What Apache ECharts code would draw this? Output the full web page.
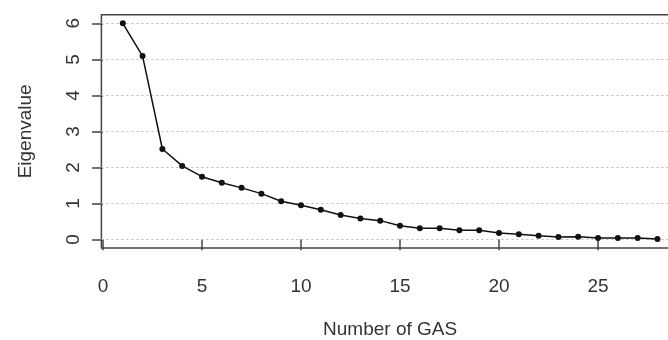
<!DOCTYPE html>
<html>
<head>
<meta charset="utf-8">
<script src="https://cdn.jsdelivr.net/npm/echarts@6/dist/echarts.min.js"></script>
<style>html,body{margin:0;padding:0;background:#fff;}#c{width:668px;height:340px;}</style>
</head>
<body>
<div id="c"></div>
<script>
var components = [1,2,3,4,5,6,7,8,9,10,11,12,13,14,15,16,17,18,19,20,21,22,23,24,25,26,27,28];
var eigenvalues = [6.0,5.09,2.51,2.04,1.74,1.57,1.43,1.27,1.06,0.95,0.82,0.675,0.58,0.52,0.38,0.31,0.31,0.25,0.25,0.175,0.14,0.10,0.064,0.072,0.036,0.036,0.036,0.008];
var xTicks = [0,5,10,15,20,25];
var yTicks = [0,1,2,3,4,5,6];
var xTitle = 'Number of GAS';
var yTitle = 'Eigenvalue';

var font = 'Liberation Sans, Arial, sans-serif';
var chart = echarts.init(document.getElementById('c'), null, {renderer:'canvas'});
chart.setOption({
  animation:false,
  backgroundColor:'#fff',
  grid:{left:101.4, top:14.7, width:577.4, height:233.3, show:true, borderColor:'#444', borderWidth:1.5, backgroundColor:'transparent', containLabel:false, outerBoundsMode:'none'},
  xAxis:{
    type:'value', min:-0.08, max:29.08,
    name:xTitle, nameLocation:'middle', nameGap:72,
    nameTextStyle:{fontFamily:font, fontSize:19, color:'#333'},
    axisLine:{show:false},
    axisTick:{show:true, inside:false, length:11, customValues:xTicks, lineStyle:{color:'#444', width:1.5}},
    axisLabel:{customValues:xTicks, margin:29, fontFamily:font, fontSize:19, color:'#333'},
    splitLine:{show:false}
  },
  yAxis:{
    type:'value', min:-0.24, max:6.24,
    name:yTitle, nameLocation:'middle', nameGap:66, nameRotate:90,
    nameTextStyle:{fontFamily:font, fontSize:19, color:'#333'},
    axisLine:{show:false},
    axisTick:{show:true, inside:false, length:11, customValues:yTicks, lineStyle:{color:'#444', width:1.5}},
    axisLabel:{customValues:yTicks, rotate:90, margin:18, fontFamily:font, fontSize:19, color:'#333'},
    splitLine:{show:false}
  },
  series:[{
    type:'line',
    data:components.map(function(c,i){return [c, eigenvalues[i]];}),
    symbol:'circle', symbolSize:6,
    lineStyle:{color:'#111', width:1.5},
    itemStyle:{color:'#111'},
    z:5,
    markLine:{
      silent:true, symbol:'none', label:{show:false},
      lineStyle:{type:[2,3], color:'#bbb', width:1.2},
      data:yTicks.map(function(v){return {yAxis:v};}),
      z:1
    }
  }]
});
</script>
</body>
</html>
